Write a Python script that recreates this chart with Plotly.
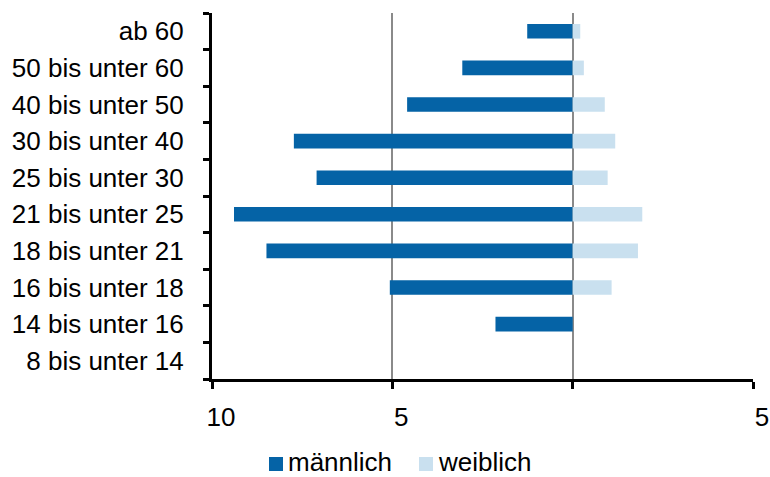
import plotly.graph_objects as go

# Age groups, bottom to top
age_groups = [
    "8 bis unter 14",
    "14 bis unter 16",
    "16 bis unter 18",
    "18 bis unter 21",
    "21 bis unter 25",
    "25 bis unter 30",
    "30 bis unter 40",
    "40 bis unter 50",
    "50 bis unter 60",
    "ab 60",
]
maennlich = [0.0, 2.14, 5.07, 8.49, 9.39, 7.10, 7.73, 4.59, 3.06, 1.26]
weiblich = [0.0, 0.0, 1.08, 1.81, 1.93, 0.97, 1.18, 0.89, 0.31, 0.21]

x_tick_vals = [-10, -5, 0, 5]
x_tick_text = ["10", "5", "", "5"]

FONT = "Liberation Sans, Arial, sans-serif"
DARK = "#0563a6"
LIGHT = "#c9e0ef"

W, H = 770, 477
M_L, M_R, M_T, M_B = 212, 17, 13, 98
PLOT_W = W - M_L - M_R
PLOT_H = H - M_T - M_B


def px_x(px):
    """Pixel column -> paper x."""
    return (px - M_L) / PLOT_W


def px_y(py):
    """Pixel row -> paper y."""
    return (H - M_B - py) / PLOT_H


fig = go.Figure()
fig.add_trace(go.Bar(
    y=age_groups, x=[-v for v in maennlich], orientation="h",
    name="männlich", marker=dict(color=DARK, line=dict(width=0)),
    showlegend=False,
))
fig.add_trace(go.Bar(
    y=age_groups, x=weiblich, orientation="h",
    name="weiblich", marker=dict(color=LIGHT, line=dict(width=0)),
    showlegend=False,
))

# Legend below the plot: colour swatch followed by the series name
legend_items = [("männlich", DARK, 269), ("weiblich", LIGHT, 419)]
for name, color, left in legend_items:
    fig.add_shape(
        type="rect", xref="paper", yref="paper",
        x0=px_x(left), x1=px_x(left + 14), y0=px_y(471), y1=px_y(457),
        fillcolor=color, line=dict(width=0),
    )
    fig.add_annotation(
        xref="paper", yref="paper", x=px_x(left + 18), y=px_y(462),
        xanchor="left", yanchor="middle", text=name, showarrow=False,
        borderpad=0, font=dict(family=FONT, size=26, color="black"),
    )

fig.update_layout(
    width=W, height=H,
    margin=dict(l=M_L, r=M_R, t=M_T, b=M_B, autoexpand=False),
    paper_bgcolor="white", plot_bgcolor="white",
    barmode="relative", bargap=0.6,
    font=dict(family=FONT, size=26, color="black"),
    showlegend=False,
)

fig.update_xaxes(
    range=[-10, 5], tickvals=x_tick_vals, ticktext=x_tick_text,
    showgrid=True, gridcolor="#8a8a8a", gridwidth=1.5,
    showline=True, linecolor="black", linewidth=3,
    ticks="outside", ticklen=7, tickwidth=3, tickcolor="black",
    ticklabelstandoff=6, ticklabelshift=9, ticklabeloverflow="allow",
    zeroline=False,
)
fig.update_yaxes(
    type="category", categoryorder="array", categoryarray=age_groups,
    showgrid=False, showline=True, linecolor="black", linewidth=3,
    ticks="outside", ticklen=6, tickwidth=3, tickcolor="black",
    tickson="boundaries", ticklabelstandoff=20, zeroline=False,
)

fig.write_html("out.html")
